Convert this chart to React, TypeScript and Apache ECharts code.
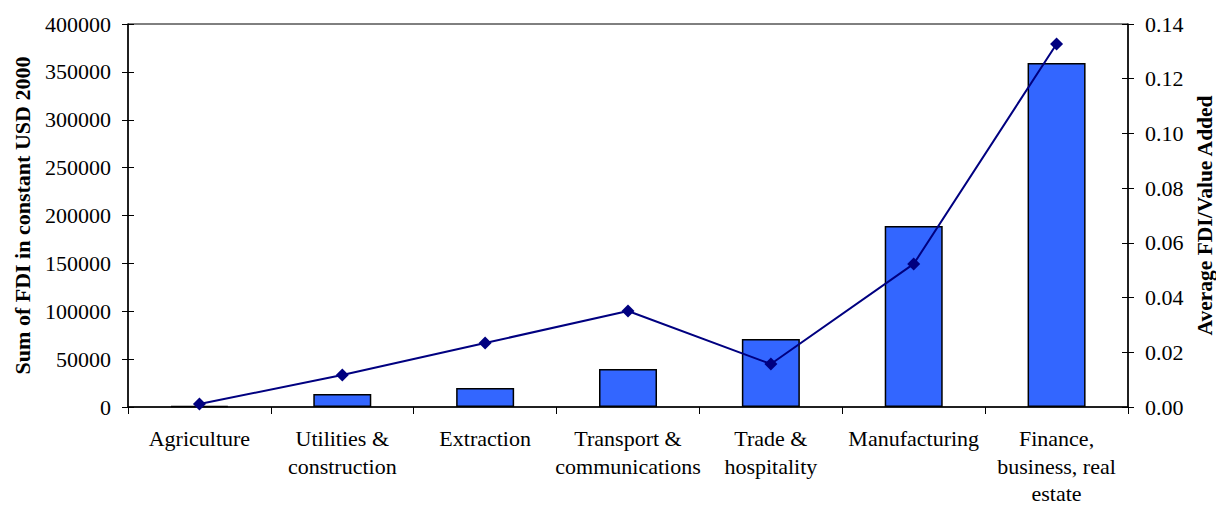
import React, { useEffect, useRef } from "react";
import * as echarts from "echarts";

const categories = [
  "Agriculture",
  "Utilities &\nconstruction",
  "Extraction",
  "Transport &\ncommunications",
  "Trade &\nhospitality",
  "Manufacturing",
  "Finance,\nbusiness, real\nestate",
];
const fdiSum = [1200, 13600, 19800, 39700, 71000, 189000, 359300];
const fdiRatio = [0.0011, 0.0117, 0.0234, 0.0351, 0.0157, 0.0523, 0.1327];

const FONT = "'Liberation Serif', 'Times New Roman', serif";

export default function App() {
  const ref = useRef<HTMLDivElement>(null);
  useEffect(() => {
    const chart = echarts.init(ref.current!, null, { renderer: "svg" });
    const leftBase = {
      type: "value" as const,
      min: 0,
      max: 400000,
      interval: 50000,
      position: "left" as const,
    };
    const rightBase = {
      type: "value" as const,
      min: 0,
      max: 0.14,
      interval: 0.02,
      position: "right" as const,
    };
    chart.setOption({
      animation: false,
      backgroundColor: "#ffffff",
      grid: {
        left: 128,
        right: 88,
        top: 24,
        bottom: 101,
        containLabel: false,
        outerBoundsMode: "none",
        show: true,
        borderColor: "#000",
        borderWidth: 1,
      },
      xAxis: {
        type: "category",
        data: categories,
        boundaryGap: true,
        axisLine: { lineStyle: { color: "#000", width: 1.5 } },
        axisTick: { show: true, length: 7, lineStyle: { color: "#000" } },
        axisLabel: {
          color: "#000",
          fontFamily: FONT,
          fontSize: 22,
          lineHeight: 27.5,
          margin: 18,
          interval: 0,
        },
      },
      yAxis: [
        {
          ...leftBase,
          name: "Sum of FDI in constant USD 2000",
          nameLocation: "middle",
          nameGap: 95,
          nameTextStyle: {
            color: "#000",
            fontFamily: FONT,
            fontSize: 22,
            fontWeight: "bold",
          },
          axisLine: { show: true, lineStyle: { color: "#000", width: 1.5 } },
          axisTick: { show: true, length: 6, lineStyle: { color: "#000" } },
          axisLabel: {
            color: "#000",
            fontFamily: FONT,
            fontSize: 22,
            margin: 17,
            formatter: (v: number) => String(v),
          },
          splitLine: { show: false },
        },
        {
          ...rightBase,
          name: "Average FDI/Value Added",
          nameLocation: "middle",
          nameGap: 62,
          nameRotate: 90,
          nameTextStyle: {
            color: "#000",
            fontFamily: FONT,
            fontSize: 21.5,
            fontWeight: "bold",
          },
          axisLine: { show: true, lineStyle: { color: "#000", width: 1.5 } },
          axisTick: { show: true, length: 6, lineStyle: { color: "#000" } },
          axisLabel: {
            color: "#000",
            fontFamily: FONT,
            fontSize: 22,
            margin: 17,
            formatter: (v: number) => v.toFixed(2),
          },
          splitLine: { show: false },
        },
        {
          ...leftBase,
          axisLine: { show: false },
          axisTick: { show: true, inside: true, length: 6, lineStyle: { color: "#000" } },
          axisLabel: { show: false },
          splitLine: { show: false },
        },
        {
          ...rightBase,
          axisLine: { show: false },
          axisTick: { show: true, inside: true, length: 6, lineStyle: { color: "#000" } },
          axisLabel: { show: false },
          splitLine: { show: false },
        },
      ],
      series: [
        {
          type: "bar",
          yAxisIndex: 0,
          data: fdiSum,
          barWidth: 58,
          itemStyle: { color: "#3366FF", borderColor: "#000", borderWidth: 1.5 },
        },
        {
          type: "line",
          yAxisIndex: 1,
          data: fdiRatio,
          symbol: "diamond",
          symbolSize: 13,
          itemStyle: { color: "#000080" },
          lineStyle: { color: "#000080", width: 2 },
        },
      ],
    });
    return () => chart.dispose();
  }, []);
  return (
    <div
      ref={ref}
      style={{ position: "fixed", left: 0, top: 0, width: 1216, height: 508 }}
    />
  );
}
